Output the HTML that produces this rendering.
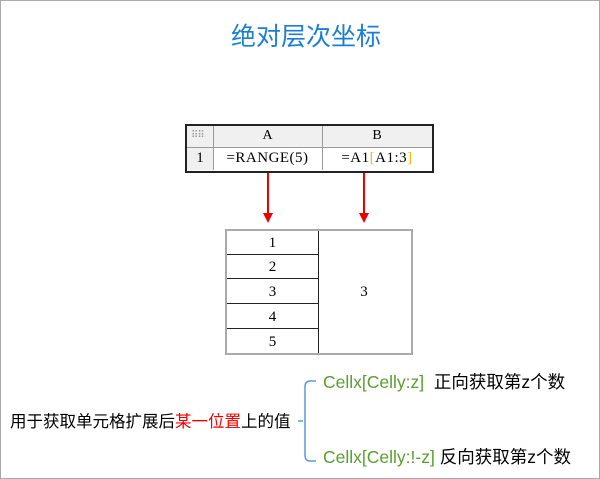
<!DOCTYPE html>
<html><head><meta charset="utf-8"><style>
body{margin:0;width:600px;height:479px;overflow:hidden;background:#fff;font-family:"Liberation Sans","Noto Sans CJK SC",sans-serif;}
#f{position:absolute;left:0;top:0;width:598px;height:477px;border:1px solid #aaa;}
.a{position:absolute;}
.serif{font-family:"Liberation Serif","Noto Serif CJK SC",serif;}
</style></head><body>
<div id="f"></div>
<div class="a" style="left:6px;width:600px;top:22px;text-align:center;font-size:25px;color:#1a7fd4;line-height:30px;">绝对层次坐标</div>

<!-- top sheet -->
<div class="a" style="left:185px;top:124px;width:245px;height:45px;border:2px solid #222;background:#fff;"></div>
<div class="a" style="left:187px;top:126px;width:245px;height:22px;background:#f0f0f0;"></div>
<div class="a" style="left:187px;top:148px;width:26px;height:22px;background:#f0f0f0;"></div>
<div class="a" style="left:187px;top:147px;width:245px;height:1px;background:#999;"></div>
<div class="a" style="left:213px;top:126px;width:1px;height:44px;background:#999;"></div>
<div class="a" style="left:322px;top:126px;width:1px;height:44px;background:#999;"></div>
<div class="a" style="left:191px;top:130px;font-size:10px;color:#999;letter-spacing:-1px;">⠿⠿</div>
<div class="a serif" style="left:213px;top:128px;width:109px;text-align:center;font-size:14px;">A</div>
<div class="a serif" style="left:322px;top:128px;width:110px;text-align:center;font-size:14px;">B</div>
<div class="a serif" style="left:187px;top:150px;width:26px;text-align:center;font-size:15px;">1</div>
<div class="a serif" style="left:213px;top:150px;width:109px;text-align:center;font-size:15px;letter-spacing:0.5px;">=RANGE(5)</div>
<div class="a serif" style="left:322px;top:150px;width:110px;text-align:center;font-size:15px;letter-spacing:0.5px;">=A1<span style="color:#e8c000">[</span>A1:3<span style="color:#e8c000">]</span></div>

<!-- arrows -->
<svg class="a" style="left:0;top:0" width="600" height="479">
<line x1="268" y1="173" x2="268" y2="214" stroke="#e00" stroke-width="2"/>
<polygon points="263,213 273,213 268,223" fill="#e00"/>
<line x1="364" y1="173" x2="364" y2="214" stroke="#e00" stroke-width="2"/>
<polygon points="359,213 369,213 364,223" fill="#e00"/>
<path d="M298,421 H303 M316,381 H310 Q305,381 305,387 V455 Q305,461 310,461 H316" stroke="#5b9bd5" stroke-width="1.5" fill="none"/>
</svg>

<!-- lower table -->
<div class="a" style="left:225px;top:229px;width:184px;height:122px;border:2px solid #aaa;"></div>
<div class="a" style="left:318px;top:231px;width:1px;height:122px;background:#222;"></div>
<div class="a" style="left:227px;top:254px;width:91px;height:1px;background:#222;"></div>
<div class="a" style="left:227px;top:278px;width:91px;height:1px;background:#222;"></div>
<div class="a" style="left:227px;top:303px;width:91px;height:1px;background:#222;"></div>
<div class="a" style="left:227px;top:328px;width:91px;height:1px;background:#222;"></div>
<div class="a serif" style="left:227px;top:235px;width:91px;text-align:center;font-size:15px;">1</div>
<div class="a serif" style="left:227px;top:259px;width:91px;text-align:center;font-size:15px;">2</div>
<div class="a serif" style="left:227px;top:284px;width:91px;text-align:center;font-size:15px;">3</div>
<div class="a serif" style="left:227px;top:309px;width:91px;text-align:center;font-size:15px;">4</div>
<div class="a serif" style="left:227px;top:334px;width:91px;text-align:center;font-size:15px;">5</div>
<div class="a serif" style="left:319px;top:284px;width:90px;text-align:center;font-size:15px;">3</div>

<!-- bottom -->
<div class="a" style="left:10px;top:412px;font-size:16.5px;line-height:20px;white-space:nowrap;">用于获取单元格扩展后<span style="color:#e00">某一位置</span>上的值</div>
<div class="a" style="left:323px;top:372px;font-size:17.5px;line-height:20px;white-space:nowrap;"><span style="color:#5a9e2f">Cellx[Celly:z]</span>&nbsp; 正向获取第z个数</div>
<div class="a" style="left:323px;top:447px;font-size:17.5px;line-height:20px;white-space:nowrap;"><span style="color:#5a9e2f">Cellx[Celly:!-z]</span> 反向获取第z个数</div>
</body></html>
